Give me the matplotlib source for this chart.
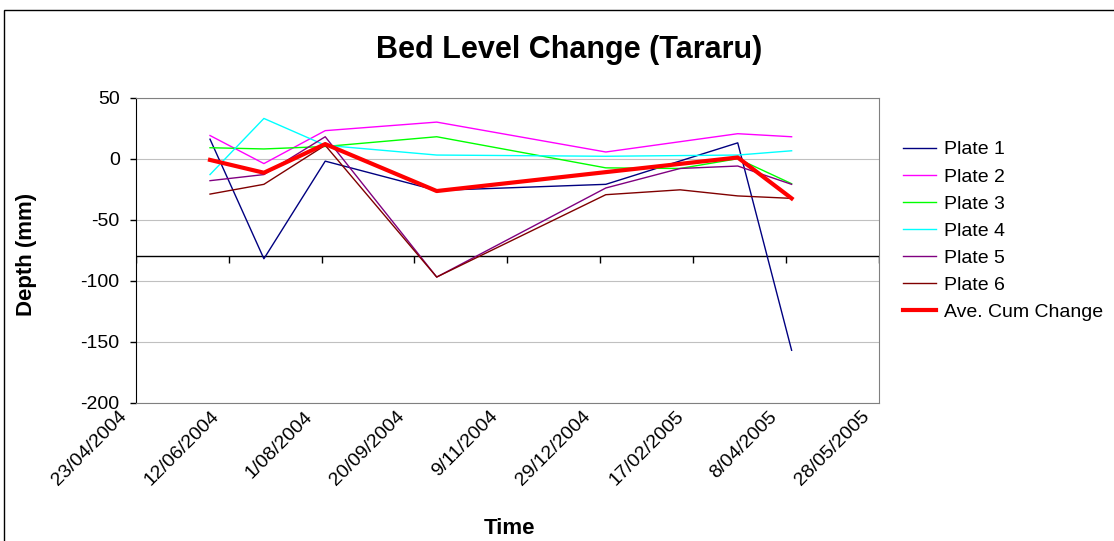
import numpy as np
import pandas as pd
import matplotlib
matplotlib.use('Agg')
import matplotlib.pyplot as plt
import matplotlib.transforms as mtransforms
from matplotlib.patches import Rectangle

plt.rcParams['font.family'] = ['Liberation Sans', 'DejaVu Sans']
plt.rcParams['axes.unicode_minus'] = False

# survey dates (plates 3, 5, 6 have an extra survey in Feb 2005)
dates = pd.to_datetime(['2004-06-02', '2004-07-01', '2004-08-03', '2004-10-02',
                        '2005-01-01', '2005-03-13', '2005-04-11'])
dates_feb = pd.to_datetime(['2004-06-02', '2004-07-01', '2004-08-03', '2004-10-02',
                            '2005-01-01', '2005-02-10', '2005-03-13', '2005-04-11'])

plate1 = [16, -82, -2, -26, -21, 13, -157]
plate2 = [19, -4, 23, 30, 5.5, 20.5, 18]
plate3 = [9, 8, 10, 18, -7.5, -8, 0, -20.5]
plate4 = [-13, 33, 11, 3, 2, 3, 6.5]
plate5 = [-18, -13, 18, -97, -24, -8, -6, -21]
plate6 = [-29, -21, 11, -97, -29.5, -25.5, -30.5, -32.5]
ave_cum = [-1, -11.5, 12, -26.5, -11, 1, -32.5]

tick_labels = ['23/04/2004', '12/06/2004', '1/08/2004', '20/09/2004', '9/11/2004',
               '29/12/2004', '17/02/2005', '8/04/2005', '28/05/2005']
tick_dates = pd.date_range('2004-04-23', periods=9, freq='50D')

fig = plt.figure(figsize=(11.14, 5.41), dpi=100)
ax = fig.add_axes([0.1218, 0.2556, 0.6672, 0.5638])

ax.plot(dates, plate1, color='#000080', lw=1, label='Plate 1')
ax.plot(dates, plate2, color='#FF00FF', lw=1, label='Plate 2')
ax.plot(dates_feb, plate3, color='#00FF00', lw=1, label='Plate 3')
ax.plot(dates, plate4, color='#00FFFF', lw=1, label='Plate 4')
ax.plot(dates_feb, plate5, color='#800080', lw=1, label='Plate 5')
ax.plot(dates_feb, plate6, color='#800000', lw=1, label='Plate 6')
ax.plot(dates, ave_cum, color='#FF0000', lw=3, label='Ave. Cum Change')

ax.set_xlim(tick_dates[0], tick_dates[-1])
ax.set_ylim(-200, 50)
ax.set_yticks(np.arange(-200, 51, 50))
ax.set_xticks(tick_dates)
ax.set_xticklabels(tick_labels, rotation=45, ha='right', va='center',
                   rotation_mode='anchor', fontsize=14)
ax.tick_params(axis='x', length=0, pad=8)
ax.tick_params(axis='y', direction='out', length=4.5, width=1, pad=7, labelsize=14)
for lbl in ax.get_xticklabels():
    lbl.set_transform(lbl.get_transform() +
                      mtransforms.ScaledTranslation(-12 / 100, 0, fig.dpi_scale_trans))

ax.yaxis.grid(True, color='#c0c0c0', lw=0.8)
ax.set_axisbelow(True)
for s in ['top', 'right', 'bottom']:
    ax.spines[s].set_color('#808080')
ax.spines['left'].set_color('black')

# category axis crosses at -80
ax.axhline(-80, color='black', lw=1, zorder=1.5)
ax.plot(tick_dates, np.full(len(tick_dates), -80), ls='none', marker=3, ms=5,
        mew=1, color='black', zorder=1.5)

ax.legend(loc='center left', bbox_to_anchor=(0.8016, 0.573),
          bbox_transform=fig.transFigure, frameon=False, fontsize=14,
          handlelength=1.7, handletextpad=0.4, labelspacing=0.49, borderpad=0)

fig.text(569 / 1114, 1 - 50 / 541, 'Bed Level Change (Tararu)', ha='center',
         va='center', fontsize=22, weight='bold')
fig.text(27 / 1114, 1 - 254 / 541, 'Depth (mm)', ha='center', va='center',
         rotation=90, fontsize=16, weight='bold')
fig.text(509 / 1114, 1 - 529 / 541, 'Time', ha='center', va='center',
         fontsize=16, weight='bold')

fig.add_artist(Rectangle((4 / 1114, -0.1), 2, 1.1 - 10 / 541, transform=fig.transFigure,
                         fill=False, ec='black', lw=1))

fig.savefig('out.png', dpi=100)
